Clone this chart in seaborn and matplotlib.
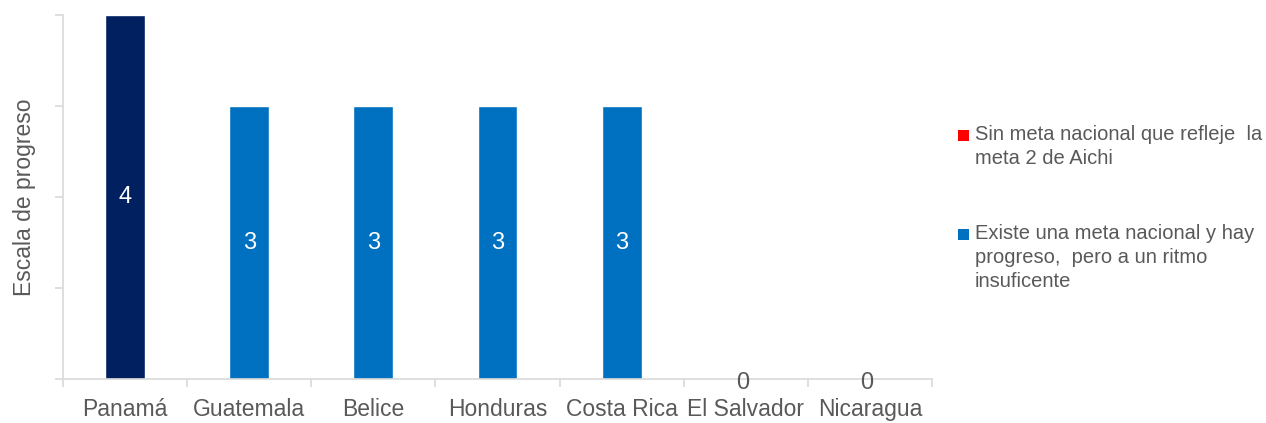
import matplotlib
matplotlib.use("Agg")
import matplotlib.pyplot as plt
from matplotlib.patches import Rectangle
import seaborn as sns
import pandas as pd

# datos
paises = ["Panamá", "Guatemala", "Belice", "Honduras", "Costa Rica", "El Salvador", "Nicaragua"]
escala = [4, 3, 3, 3, 3, 0, 0]
colores = ["#002060", "#0070C0", "#0070C0", "#0070C0", "#0070C0", "#0070C0", "#0070C0"]
leyenda = ["Sin meta nacional que refleje  la\nmeta 2 de Aichi",
           "Existe una meta nacional y hay\nprogreso,  pero a un ritmo\ninsuficente"]
leyenda_colores = ["#FF0000", "#0070C0"]

sns.set_style("white")
plt.rcParams["font.family"] = ["Liberation Sans", "DejaVu Sans"]

gris = "#595959"
eje = "#D9D9D9"

df = pd.DataFrame({"pais": paises, "escala": escala})

fig = plt.figure(figsize=(12.66, 4.23), dpi=100)
ax = fig.add_axes([63 / 1266, 44 / 423, (932 - 63) / 1266, (379 - 15) / 423])

sns.barplot(data=df, x="pais", y="escala", hue="pais", palette=colores,
            width=0.32, legend=False, ax=ax, saturation=1)

ax.set_ylim(0, 4)
ax.set_xlim(-0.5, len(paises) - 0.5)

# etiquetas de datos
for i, v in enumerate(escala):
    if v > 0:
        ax.text(i, v / 2, str(v), ha="center", va="center", color="white", fontsize=17)
    else:
        ax.annotate(str(v), (i, 0), xytext=(-2, -3), textcoords="offset points",
                    ha="center", va="center", color=gris, fontsize=17)

# ejes
for s in ["top", "right"]:
    ax.spines[s].set_visible(False)
for s in ["left", "bottom"]:
    ax.spines[s].set_color(eje)
    ax.spines[s].set_linewidth(1.2)

ax.set_yticks([0, 1, 2, 3, 4])
ax.set_yticklabels([])
ax.tick_params(axis="y", length=6, color=eje, width=1.2, left=True)

ax.set_xticks([i - 0.5 for i in range(len(paises) + 1)])
ax.set_xticklabels([])
ax.set_xticks(range(len(paises)), minor=True)
ax.set_xticklabels(paises, minor=True, fontsize=16.5, color=gris)
ax.tick_params(axis="x", which="minor", length=0, pad=14)
ax.tick_params(axis="x", which="major", length=6, color=eje, width=1.2, bottom=True)

ax.set_xlabel("")
ax.set_ylabel("Escala de progreso", fontsize=16.5, color=gris, labelpad=10)

# leyenda
y_pos = [136, 235]
for texto, c, yp in zip(leyenda, leyenda_colores, y_pos):
    fig.patches.append(Rectangle((958 / 1266, 1 - (yp + 5) / 423), 11 / 1266, 11 / 423,
                                 transform=fig.transFigure, facecolor=c, edgecolor="none"))
    fig.text(975 / 1266, 1 - (yp - 11) / 423, texto, fontsize=14.5, color=gris,
             va="top", ha="left", linespacing=1.34)

fig.savefig("out.png", dpi=100)
